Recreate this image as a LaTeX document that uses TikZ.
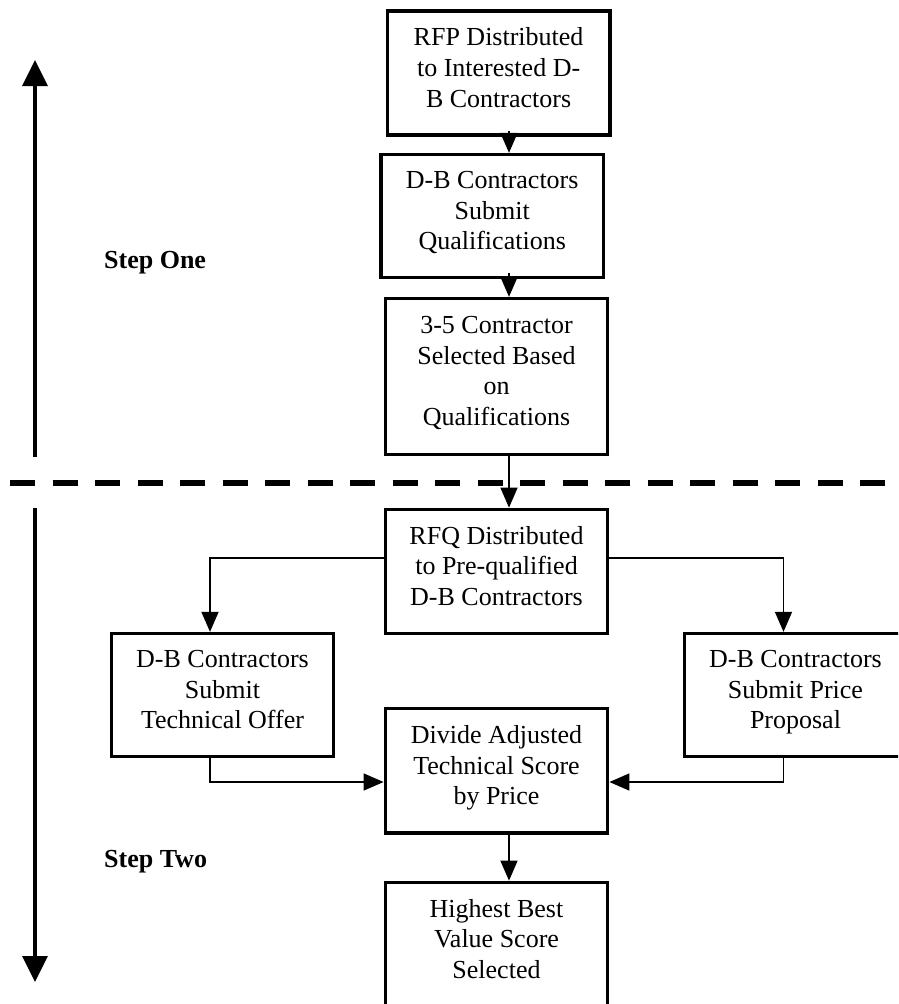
\documentclass[tikz,border=0pt]{standalone}
\usepackage{fontspec}
\setmainfont{Liberation Serif}
\usetikzlibrary{arrows.meta,calc}
\begin{document}
\begin{tikzpicture}[x=1pt,y=-1pt,
  box/.style={draw, line width=3.3pt, minimum width=222.5pt, minimum height=124pt,
    inner sep=0pt, align=center, text depth=11pt, font=\fontsize{26}{30.7}\selectfont},
  conn/.style={line width=1.5pt, -{Triangle[length=20pt,width=17pt]}},
  span/.style={line width=3.3pt, -{Triangle[length=26pt,width=25pt]}},
  divider/.style={line width=6.7pt, dash pattern=on 25pt off 17.5pt},
  lbl/.style={anchor=base west, inner sep=0pt, font=\fontsize{26}{30.7}\selectfont\bfseries}]
\useasboundingbox (0,0) rectangle (898,1004);
\clip (0,0) rectangle (898,1004);

% helper coordinates for connector routing
\coordinate (ax) at (509,0);
\coordinate (cxL) at (210,0);
\coordinate (cxR) at (783.5,0);
\coordinate (yB) at (0,558);
\coordinate (yJ) at (0,782);

% step one
\node[box] (b1) at (498.6,73) {RFP Distributed\\to Interested D-\\B Contractors};
\node[box, minimum height=123pt] (b2) at (492.2,216) {D-B Contractors\\Submit\\Qualifications};
\node[box, minimum height=156pt] (b3) at (496.5,376.5) {3-5 Contractor\\Selected Based\\on\\Qualifications};

% step two
\node[box] (b4) at (496.5,571.3) {RFQ Distributed\\to Pre-qualified\\D-B Contractors};
\node[box, minimum height=123pt] (b5) at (222.5,695) {D-B Contractors\\Submit\\Technical Offer};
\node[box, minimum height=123pt] (b6) at (795.5,695) {D-B Contractors\\Submit Price\\Proposal};
\node[box, minimum height=124.7pt] (b7) at (496.5,770.7) {Divide Adjusted\\Technical Score\\by Price};
\node[box] (b8) at (496.5,944.3) {Highest Best\\Value Score\\Selected};

% step labels
\node[lbl] (s1) at (104,268) {Step One};
\node[lbl] (s2) at (104,867) {Step Two};

% phase divider
\coordinate (dl) at (10,483);
\coordinate (dr) at (898,483);
\draw[divider] (dl) -- (dr);

% phase extent arrows
\coordinate (upS) at (35,457);
\coordinate (upE) at (35,60);
\coordinate (dnS) at (35,508);
\coordinate (dnE) at (35,982);
\draw[span] (upS) -- (upE);
\draw[span] (dnS) -- (dnE);

% flow connectors
\draw[conn] ($(b1.south -| ax)+(0,-6)$) -- (b2.north -| ax);
\draw[conn] ($(b2.south -| ax)+(0,-6)$) -- (b3.north -| ax);
\draw[conn] (b3.south -| ax) -- (b4.north -| ax);
\draw[conn] (b4.west |- yB) -| (b5.north -| cxL);
\draw[conn] (b4.east |- yB) -| (b6.north -| cxR);
\draw[conn] (b5.south -| cxL) |- (b7.west |- yJ);
\draw[conn] (b6.south -| cxR) |- (b7.east |- yJ);
\draw[conn] (b7.south -| ax) -- (b8.north -| ax);
\end{tikzpicture}
\end{document}
